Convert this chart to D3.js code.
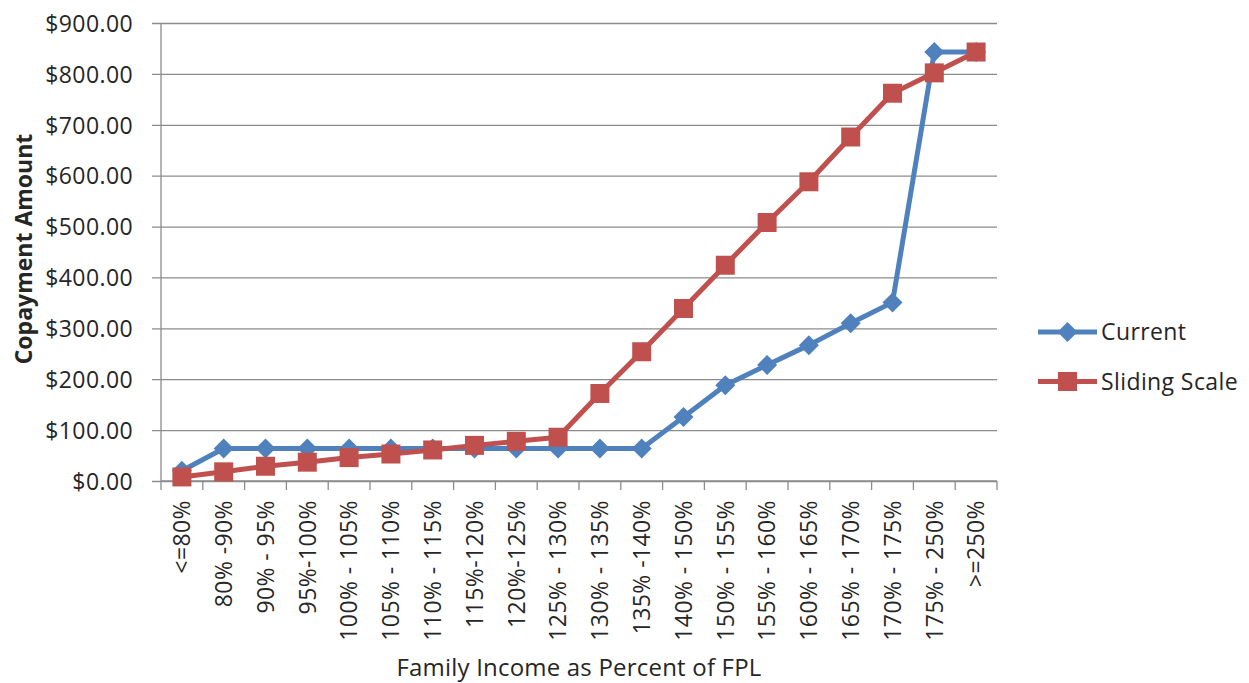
<!DOCTYPE html>
<html>
<head>
<meta charset="utf-8">
<script src="https://cdn.jsdelivr.net/npm/d3@7"></script>
<style>
  html, body { margin: 0; padding: 0; background: #ffffff; }
  svg { display: block; }
  svg text { font-family: "Open Sans", "DejaVu Sans", sans-serif; }
</style>
</head>
<body>
<svg id="chart" width="1249" height="683"></svg>
<script>
// Income bands (percent of Federal Poverty Level)
const categories = [
  "<=80%", "80% -90%", "90% - 95%", "95%-100%", "100% - 105%", "105% - 110%",
  "110% - 115%", "115%-120%", "120%-125%", "125% - 130%", "130% - 135%",
  "135% -140%", "140% - 150%", "150% - 155%", "155% - 160%", "160% - 165%",
  "165% - 170%", "170% - 175%", "175% - 250%", ">=250%"
];

// Copayment amounts under the current schedule
const currentValues = [20, 64, 64, 64, 64, 64, 64, 64, 64, 64, 64, 64, 126, 188, 228, 267, 310, 351, 843, 843];

// Copayment amounts under the proposed sliding scale
const slidingValues = [8, 18, 29, 37, 46, 53, 61, 70, 78, 86, 172, 254, 339, 424, 508, 588, 676, 762, 802, 843];

const yTicks = [0, 100, 200, 300, 400, 500, 600, 700, 800, 900];

const seriesNames = ["Current", "Sliding Scale"];

const svg = d3.select("#chart");

const plot = { left: 161, right: 997, top: 23, bottom: 481 };
const gridColor = "#8c8c8c";
const textColor = "#262626";
const blue = "#4F81BD";
const red = "#C0504D";

const x = d3.scaleBand().domain(categories).range([plot.left, plot.right]).padding(0);
const y = d3.scaleLinear().domain([0, 900]).range([plot.bottom, plot.top]);
const cx = d => x(d) + x.bandwidth() / 2;

// Horizontal gridlines with outward tick stubs
const yAxis = d3.axisLeft(y)
  .tickValues(yTicks)
  .tickSize(-(plot.right - plot.left))
  .tickSizeOuter(0)
  .tickFormat(d3.format("$.2f"));

const gy = svg.append("g").attr("transform", `translate(${plot.left},0)`).call(yAxis);
gy.attr("font-family", null).attr("font-size", null);
gy.select(".domain").remove();
gy.selectAll(".tick line").attr("stroke", gridColor).attr("stroke-width", 1.3)
  .attr("x1", -9);
gy.selectAll(".tick text")
  .attr("x", -28)
  .attr("dy", "0.36em")
  .attr("fill", textColor)
  .style("font-size", "23px")
  .style("letter-spacing", "0.4px");

// Vertical axis line
svg.append("line")
  .attr("x1", plot.left).attr("x2", plot.left)
  .attr("y1", plot.top).attr("y2", plot.bottom)
  .attr("stroke", gridColor).attr("stroke-width", 1.3);

// Category axis with tick marks on band boundaries
const bounds = categories.map(c => x(c)).concat([plot.right]);
svg.append("line")
  .attr("x1", plot.left).attr("x2", plot.right)
  .attr("y1", plot.bottom).attr("y2", plot.bottom)
  .attr("stroke", gridColor).attr("stroke-width", 1.3);
svg.append("g").selectAll("line").data(bounds).join("line")
  .attr("x1", d => d).attr("x2", d => d)
  .attr("y1", plot.bottom).attr("y2", plot.bottom + 9)
  .attr("stroke", gridColor).attr("stroke-width", 1.3);

// Rotated category labels
svg.append("g").selectAll("text").data(categories).join("text")
  .attr("transform", d => `translate(${cx(d)},${plot.bottom + 19}) rotate(-90)`)
  .attr("text-anchor", "end")
  .attr("dy", "0.36em")
  .attr("fill", textColor)
  .style("font-size", "23px")
  .style("letter-spacing", "0.4px")
  .text(d => d);

// Axis titles
svg.append("text")
  .attr("x", 579).attr("y", 676)
  .attr("text-anchor", "middle")
  .attr("fill", textColor)
  .style("font-size", "24px")
  .style("letter-spacing", "0.2px")
  .text("Family Income as Percent of FPL");

svg.append("text")
  .attr("transform", "translate(24,249) rotate(-90)")
  .attr("text-anchor", "middle")
  .attr("dy", "0.36em")
  .attr("fill", textColor)
  .style("font-size", "23px")
  .style("font-weight", "bold")
  .text("Copayment Amount");

// Series lines and markers
const line = d3.line().x((d, i) => cx(categories[i])).y(d => y(d));
const diamond = r => `M0,${-r}L${r},0L0,${r}L${-r},0Z`;
const square = s => `M${-s / 2},${-s / 2}h${s}v${s}h${-s}Z`;

const series = [
  { name: seriesNames[0], values: currentValues, color: blue, marker: diamond(10) },
  { name: seriesNames[1], values: slidingValues, color: red, marker: square(19) }
];

series.forEach(s => {
  const g = svg.append("g");
  g.append("path")
    .datum(s.values)
    .attr("d", line)
    .attr("fill", "none")
    .attr("stroke", s.color)
    .attr("stroke-width", 5)
    .attr("stroke-linejoin", "round");
  g.selectAll("path.marker").data(s.values).join("path")
    .attr("class", "marker")
    .attr("transform", (d, i) => `translate(${cx(categories[i])},${y(d)})`)
    .attr("d", s.marker)
    .attr("fill", s.color);
});

// Legend
const legend = svg.append("g");
series.forEach((s, i) => {
  const ly = 332 + i * 49.5;
  legend.append("line")
    .attr("x1", 1038).attr("x2", 1097)
    .attr("y1", ly).attr("y2", ly)
    .attr("stroke", s.color).attr("stroke-width", 5);
  legend.append("path")
    .attr("transform", `translate(1067.5,${ly})`)
    .attr("d", s.marker)
    .attr("fill", s.color);
  legend.append("text")
    .attr("x", 1101).attr("y", ly)
    .attr("dy", "0.36em")
    .attr("fill", textColor)
    .style("font-size", "23px")
    .style("letter-spacing", "0.4px")
    .text(s.name);
});
</script>
</body>
</html>
